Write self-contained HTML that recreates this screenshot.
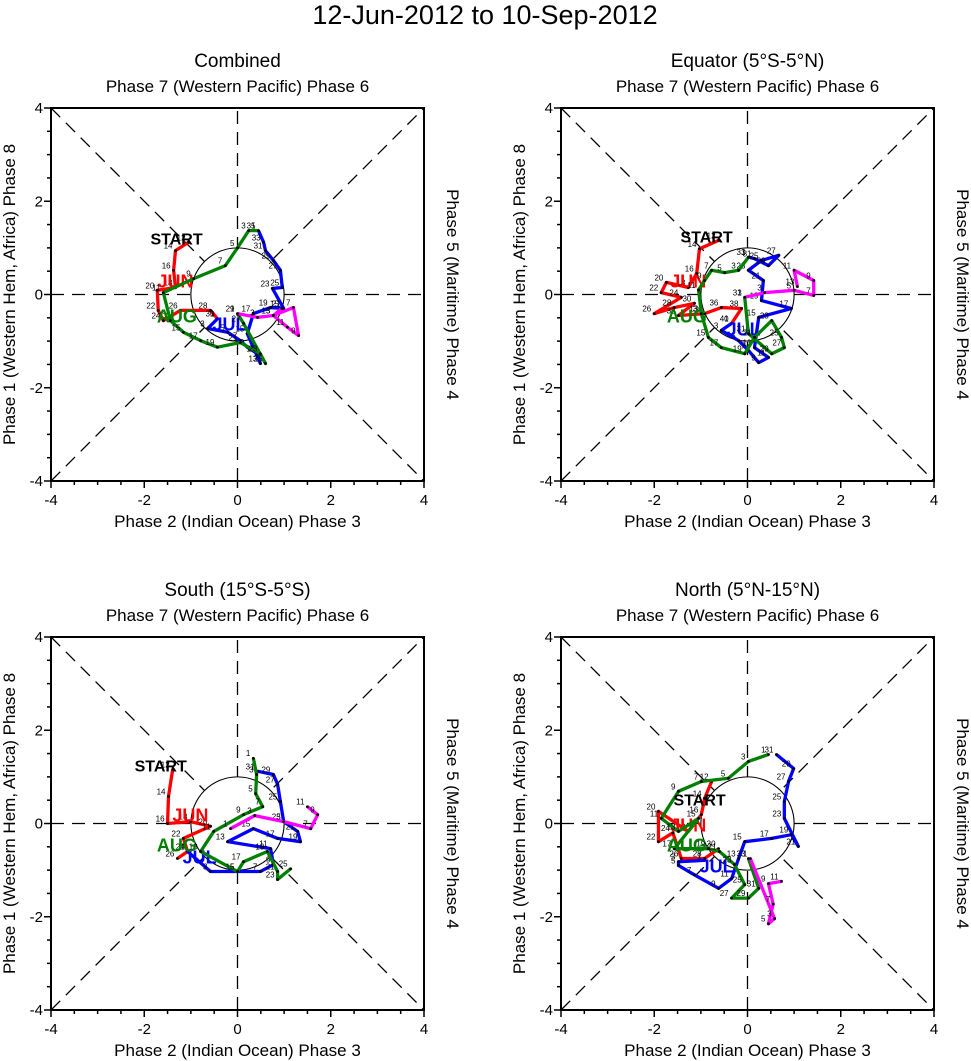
<!DOCTYPE html>
<html><head><meta charset="utf-8"><style>
body{margin:0;background:#fff;}
svg{display:block;font-family:"Liberation Sans",Arial,sans-serif;}
</style></head><body>
<svg id="chart" width="971" height="1061" viewBox="0 0 971 1061">
<text x="485" y="24" text-anchor="middle" font-size="27">12-Jun-2012 to 10-Sep-2012</text>
</svg>
<script>
// ---- data (RMM1, RMM2) per panel per month ----
const panelTitles = ["Combined","Equator (5°S-5°N)","South (15°S-5°S)","North (5°N-15°N)"];
const tickLabels = ["-4","-2","0","2","4"];
const monthNames = ["JUN","JUL","AUG","SEP"];
const monthColors = ["#ff0000","#0000ff","#008000","#ff00ff"];
// Combined
const c_jun_x=[-1.05,-1.33,-1.37,-1.33,-1.72,-1.7,-1.59,-1.22,-0.58,-0.43];
const c_jun_y=[1.12,0.94,0.52,0.15,0.09,-0.34,-0.56,-0.34,-0.34,-0.52];
const c_jul_x=[-0.43,-0.64,-0.21,0.06,0.21,0.43,0.49,0.21,0.34,0.71,0.99,0.75,0.96,0.92,0.77,0.6,0.56,0.45];
const c_jul_y=[-0.52,-0.73,-0.81,-0.99,-1.13,-1.27,-1.48,-0.84,-0.41,-0.28,-0.3,0.13,0.15,0.52,0.73,0.94,1.12,1.37];
const c_aug_x=[0.45,0.24,0,-0.26,-0.94,-1.59,-1.44,-1.16,-0.79,-0.43,0.06,0.49,0.6,0.13,0];
const c_aug_y=[1.37,1.37,1.0,0.62,0.34,0.04,-0.56,-0.81,-0.99,-1.13,-1.03,-1.27,-1.48,-0.62,-0.41];
const c_sep_x=[0,0.43,0.77,1.2,1.31,1.07,0.77,0.95];
const c_sep_y=[-0.41,-0.49,-0.45,-0.28,-0.88,-0.7,-0.45,-0.3];
// Equator
const e_jun_x=[-0.62,-1.03,-1.09,-1.27,-1.74,-1.85,-1.42,-2.0,-1.57,-1.14,-1.48,-0.92,-0.56,-0.13,-0.34];
const e_jun_y=[1.16,0.98,0.45,0.15,0.26,0.04,-0.06,-0.41,-0.28,-0.19,-0.45,-0.41,-0.28,-0.3,-0.62];
const e_jul_x=[-0.34,-0.56,-0.19,0.02,0.24,0.45,0.15,0.24,0.94,0.3,0.34,0.02,0.3,0.67,0.45,0.15,0.02];
const e_jul_y=[-0.62,-0.77,-0.99,-1.2,-1.46,-1.35,-1.14,-0.49,-0.3,-0.13,0.3,0.52,0.73,0.84,0.62,0.77,0.8];
const e_aug_x=[0.02,-0.19,-0.49,-0.77,-0.92,-1.05,-0.99,-0.84,-0.56,-0.06,0.15,0.52,0.73,0.79,0.52,0.02,-0.06];
const e_aug_y=[0.8,0.52,0.47,0.52,0.3,0.1,-0.41,-0.92,-1.14,-1.27,-0.92,-0.56,-0.92,-1.14,-1.27,-0.84,-0.06];
const e_sep_x=[-0.06,0.37,1.0,1.42,1.42,1.0,1.07];
const e_sep_y=[-0.06,0.04,0.09,-0.02,0.3,0.52,0.17];
// South
const s_jun_x=[-1.39,-1.48,-1.5,-1.01,-0.58,-1.16,-1.07,-1.29];
const s_jun_y=[1.16,0.58,0,0.04,-0.06,-0.32,-0.6,-0.75];
const s_jul_x=[-1.07,-0.58,0,0.49,0.77,0.71,-0.21,0.34,0.86,1.35,1.29,0.99,0.92,0.86,0.77,0.43];
const s_jul_y=[-0.6,-1.03,-1.03,-1.03,-0.88,-0.54,-0.39,-0.11,-0.32,-0.39,-0.17,0.04,0.47,0.84,1.05,1.12];
const s_aug_x=[0.34,0.41,0.39,0.54,0.13,-0.51,-0.79,0,0.13,0.64,0.86,0.86,1.14];
const s_aug_y=[1.4,1.05,0.64,0.36,0.19,-0.17,-0.6,-1.03,-0.82,-0.6,-1.03,-1.2,-0.97];
const s_sep_x=[-0.15,0.37,0.99,1.57,1.72,1.5];
const s_sep_y=[-0.11,0.17,0.04,-0.11,0.19,0.36];
// North
const n_jun_x=[-0.77,-0.92,-0.99,-1.27,-1.91,-1.91,-1.6,-1.42,-0.92,-0.62];
const n_jun_y=[0.9,0.54,0.19,-0.17,0.26,-0.39,-0.2,-0.75,-0.75,-0.54];
const n_jul_x=[-0.92,-1.48,-1.48,-1.14,-0.62,-0.34,-0.19,-0.06,0.52,0.94,1.09,0.79,0.79,0.88,0.99,0.62];
const n_jul_y=[-0.79,-0.82,-0.9,-1.1,-1.39,-1.18,-0.75,-0.39,-0.32,-0.24,-0.49,0.11,0.47,0.9,1.18,1.48];
const n_aug_x=[0.45,0.02,-0.41,-0.99,-1.48,-1.85,-1.48,-1.05,-1.57,-0.84,-0.6,-0.28,-0.06,-0.34,0.02,0.24,0.02];
const n_aug_y=[1.48,1.33,0.97,0.9,0.69,0.11,-0.17,0.11,-0.54,-0.54,-0.6,-0.88,-1.31,-1.6,-1.6,-1.39,-0.75];
const n_sep_x=[0.06,0.58,0.45,0.55,0.45,0.73];
const n_sep_y=[-0.75,-2.04,-2.15,-1.73,-1.29,-1.24];

const panelsX=[[c_jun_x,c_jul_x,c_aug_x,c_sep_x],[e_jun_x,e_jul_x,e_aug_x,e_sep_x],[s_jun_x,s_jul_x,s_aug_x,s_sep_x],[n_jun_x,n_jul_x,n_aug_x,n_sep_x]];
const panelsY=[[c_jun_y,c_jul_y,c_aug_y,c_sep_y],[e_jun_y,e_jul_y,e_aug_y,e_sep_y],[s_jun_y,s_jul_y,s_aug_y,s_sep_y],[n_jun_y,n_jul_y,n_aug_y,n_sep_y]];

const NS="http://www.w3.org/2000/svg";
const svg=document.getElementById('chart');
const origins=[[51,108],[561,108],[51,637],[561,637]];
const SIZE=373;
function mk(tag,attrs,parent){const e=document.createElementNS(NS,tag);for(const k in attrs)e.setAttribute(k,attrs[k]);(parent||svg).appendChild(e);return e;}

origins.forEach((o,pi)=>{
  const x0=o[0],y0=o[1];
  const sx=v=>x0+(v+4)/8*SIZE, sy=v=>y0+(4-v)/8*SIZE;
  const g=mk('g',{});
  
  
  const cx=sx(0),cy=sy(0);
  [[sx(-4),sy(-4),sx(4),sy(4)],[sx(-4),sy(4),sx(4),sy(-4)],[sx(-4),cy,sx(4),cy],[cx,sy(-4),cx,sy(4)]].forEach(l=>{
    const d=mk('line',{x1:l[0],y1:l[1],x2:l[2],y2:l[3],stroke:'#000','stroke-width':1.3,'stroke-dasharray':'13,8'},g);
    
    
  });
  const c=mk('circle',{cx:cx,cy:cy,r:SIZE/8,fill:'#fff',stroke:'#000','stroke-width':1.1},g);
  
  
  const f=mk('rect',{x:x0,y:y0,width:SIZE,height:SIZE,fill:'none',stroke:'#000','stroke-width':2},g);
  
  
  for(let v=-4;v<=4.001;v+=0.5){
    const major=Math.abs(v%2)<0.01;const len=major?7:4;
    mk('line',{x1:sx(v),y1:y0+SIZE,x2:sx(v),y2:y0+SIZE+len,stroke:'#000','stroke-width':1.5},g);
    mk('line',{x1:x0,y1:sy(v),x2:x0-len,y2:sy(v),stroke:'#000','stroke-width':1.5},g);
  }
  tickLabels.forEach(t=>{
    const v=parseFloat(t);
    const a=mk('text',{x:sx(v),y:y0+SIZE+24,'text-anchor':'middle','font-size':15},g);a.textContent=t;
    
    
    const b=mk('text',{x:x0-8,y:sy(v)+5,'text-anchor':'end','font-size':15},g);b.textContent=t;
    
    
  });
  const tt=mk('text',{x:x0+SIZE/2,y:y0-41,'text-anchor':'middle','font-size':19},g);tt.textContent=panelTitles[pi];
  
  
  const top=mk('text',{x:x0+SIZE/2,y:y0-16,'text-anchor':'middle','font-size':17},g);top.textContent='Phase 7 (Western Pacific) Phase 6';
  
  
  const bot=mk('text',{x:x0+SIZE/2,y:y0+SIZE+46,'text-anchor':'middle','font-size':17},g);bot.textContent='Phase 2 (Indian Ocean) Phase 3';
  
  
  const lx=x0-36,ly=y0+SIZE/2;
  const lt=mk('text',{x:lx,y:ly,'text-anchor':'middle','font-size':17,transform:`rotate(-90 ${lx} ${ly})`},g);lt.textContent='Phase 1 (Western Hem, Africa) Phase 8';
  
  
  const rx=x0+SIZE+23;
  const rt=mk('text',{x:rx,y:ly,'text-anchor':'middle','font-size':17,transform:`rotate(90 ${rx} ${ly})`},g);rt.textContent='Phase 5 (Maritime) Phase 4';
  
  
  const starts=[12,1,1,1];
  panelsX[pi].forEach((xs,mi)=>{
    const ys=panelsY[pi][mi];
    const pts=xs.map((v,i)=>sx(v)+','+sy(ys[i])).join(' ');
    const pl=mk('polyline',{points:pts,fill:'none',stroke:monthColors[mi],'stroke-width':3.3,'stroke-linejoin':'round'},g);
    
    
    xs.forEach((v,i)=>{
      mk('circle',{cx:sx(v),cy:sy(ys[i]),r:1.4,fill:'#000'},g);
      const n=mk('text',{x:sx(v)-3,y:sy(ys[i])-2,'text-anchor':'end','font-size':8},g);
      n.textContent=String(starts[mi]+i*2);
    });
    const ml=mk('text',{x:sx(xs[mi===0?Math.min(3,xs.length-1):0]),y:sy(ys[mi===0?Math.min(3,xs.length-1):0]),'text-anchor':'middle','font-size':18,'font-weight':'bold',fill:monthColors[mi]},g);
    if(mi===1){ml.setAttribute('x',sx(xs[0])+12);ml.setAttribute('y',sy(ys[0])+12);}
    if(mi===2){ml.setAttribute('x',sx(-1.3));ml.setAttribute('y',sy(-0.6));}
    if(mi===3){ml.remove();}
    else {ml.textContent=monthNames[mi];
    
    }
  });
  const sxs=panelsX[pi][0][0],sys=panelsY[pi][0][0];
  const st=mk('text',{x:sx(sxs)-12,y:sy(sys)+(pi===3?24:2),'text-anchor':'middle','font-size':16,'font-weight':'bold'},g);
  st.textContent='START';
  
  
});
</script>
</body></html>
